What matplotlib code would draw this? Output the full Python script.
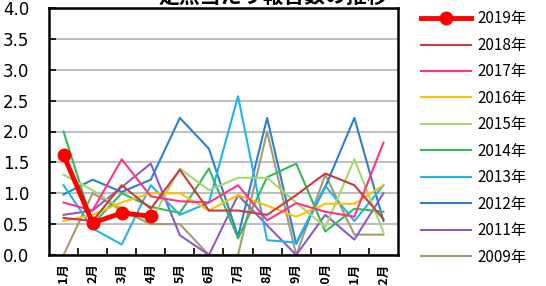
import numpy as np
import matplotlib
matplotlib.use("Agg")
import matplotlib.pyplot as plt
from matplotlib.ticker import FixedLocator, MultipleLocator

plt.rcParams['font.family'] = ['Noto Sans CJK JP', 'DejaVu Sans']

months = ['1月', '2月', '3月', '4月', '5月', '6月', '7月', '8月', '9月', '10月', '11月', '12月']

# 定点当たり報告数
y2019 = [1.62, 0.52, 0.68, 0.63]
y2018 = [0.60, 0.55, 1.13, 0.75, 1.38, 0.72, 0.72, 0.65, 0.97, 1.32, 1.13, 0.58]
y2017 = [0.85, 0.72, 1.55, 0.95, 0.87, 0.85, 1.13, 0.56, 0.84, 0.70, 0.62, 1.82]
y2016 = [0.55, 0.65, 0.85, 1.00, 1.00, 0.72, 0.97, 0.80, 0.62, 0.83, 0.83, 1.13]
y2015 = [1.30, 1.05, 0.75, 0.55, 1.40, 1.05, 1.25, 1.25, 0.85, 0.45, 1.55, 0.37]
y2014 = [2.00, 0.50, 1.00, 0.78, 0.68, 1.40, 0.27, 1.26, 1.48, 0.38, 0.75, 0.70]
y2013 = [1.13, 0.43, 0.17, 1.13, 0.65, 0.85, 2.57, 0.24, 0.20, 1.12, 0.55, 1.13]
y2012 = [0.98, 1.22, 1.02, 1.22, 2.22, 1.72, 0.30, 2.22, 0.18, 1.10, 2.22, 0.55]
y2011 = [0.65, 0.72, 1.10, 1.48, 0.32, 0.00, 0.97, 0.48, 0.00, 0.65, 0.25, 1.00]
y2009 = [0.00, 1.00, 0.72, 0.50, 0.50, 0.00, 0.00, 2.00, 0.00, 1.30, 0.33, 0.33]

series = [
    ('2018年', y2018, '#C83C3C'),
    ('2017年', y2017, '#FF3388'),
    ('2016年', y2016, '#FFC000'),
    ('2015年', y2015, '#A6D86E'),
    ('2014年', y2014, '#2EBD59'),
    ('2013年', y2013, '#1EB4F0'),
    ('2012年', y2012, '#2E7FCC'),
    ('2011年', y2011, '#8E5CC4'),
    ('2009年', y2009, '#A89A70'),
]

fig = plt.figure(figsize=(5.46, 2.86), dpi=100)
ax = fig.add_axes([49/546, 31/286, 349/546, 247/286])

x = np.arange(len(months))
handles = []
for name, vals, col in reversed(series):
    h, = ax.plot(x[:len(vals)], vals, color=col, lw=1.5, label=name)
    handles.append(h)
handles = handles[::-1]
h19, = ax.plot(x[:len(y2019)], y2019, color='#FF0000', lw=3.5, marker='o',
               markersize=9, label='2019年', zorder=5)
handles = [h19] + handles

ax.set_xlim(-0.5, 11.5)
ax.set_ylim(0, 4.0)
ax.yaxis.set_major_locator(MultipleLocator(0.5))
ax.set_yticks(np.arange(0, 4.01, 0.5))
ax.set_yticklabels([f'{v:.1f}' for v in np.arange(0, 4.01, 0.5)], fontsize=12,
                   family=['DejaVu Sans'])
ax.grid(axis='y', color='#C0C0C0', lw=1.5)
ax.set_axisbelow(True)

ax.set_xticks(x)
ax.set_xticklabels(months, rotation=90, fontsize=9, fontweight='bold', va='top')
ax.xaxis.set_minor_locator(FixedLocator(np.arange(0.5, 11, 1.0)))
ax.tick_params(axis='x', which='major', length=0, pad=6)
ax.tick_params(axis='x', which='minor', direction='in', length=5, width=1.2)
ax.tick_params(axis='y', direction='in', length=5, width=1.2, pad=14)
for s in ax.spines.values():
    s.set_linewidth(1.8)
    s.set_color('black')

fig.text(0.5, 1.012, '定点当たり報告数の推移', ha='center', va='center',
         fontsize=15, fontweight='bold')

fig.legend(handles=handles, loc='upper left', bbox_to_anchor=(0.76, 0.985),
           frameon=False, fontsize=11, handlelength=3.3, labelspacing=0.62,
           handletextpad=0.4, borderaxespad=0)

fig.savefig('out.png', dpi=100)
